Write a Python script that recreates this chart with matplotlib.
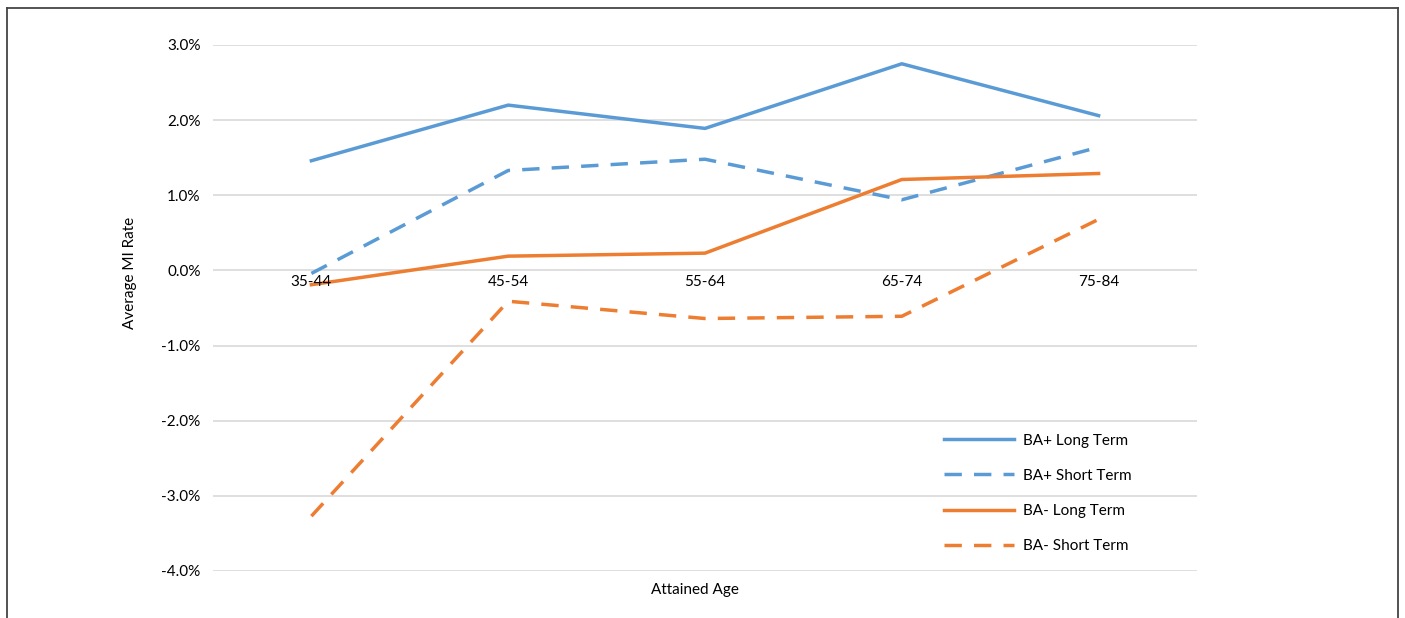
import matplotlib
matplotlib.use("Agg")
import matplotlib.pyplot as plt
from matplotlib.lines import Line2D
from matplotlib.ticker import FuncFormatter

plt.rcParams['font.family'] = ['Lato', 'DejaVu Sans']

age_groups = ["35-44", "45-54", "55-64", "65-74", "75-84"]
ba_plus_long = [1.46, 2.20, 1.89, 2.75, 2.06]
ba_plus_short = [-0.04, 1.33, 1.48, 0.94, 1.64]
ba_minus_long = [-0.19, 0.19, 0.23, 1.21, 1.29]
ba_minus_short = [-3.27, -0.41, -0.64, -0.61, 0.68]
y_ticks = [3, 2, 1, 0, -1, -2, -3, -4]

BLUE = "#5B9BD5"
ORANGE = "#ED7D31"

W, H = 1405, 618
fig = plt.figure(figsize=(W / 100, H / 100), dpi=100)
ax = fig.add_axes([213 / W, 1 - 571 / H, (1197 - 213) / W, (571 - 45) / H])

FS = 11
x = list(range(len(age_groups)))
dash = (0, (5, 3.5))
lw = 2.5
ax.plot(x, ba_plus_long, color=BLUE, lw=lw, label="BA+ Long Term")
ax.plot(x, ba_plus_short, color=BLUE, lw=lw, ls=dash, label="BA+ Short Term")
ax.plot(x, ba_minus_long, color=ORANGE, lw=lw, label="BA- Long Term")
ax.plot(x, ba_minus_short, color=ORANGE, lw=lw, ls=dash, label="BA- Short Term")

ax.set_xlim(-0.5, len(age_groups) - 0.5)
ax.set_ylim(-4, 3)
ax.set_yticks(y_ticks)
ax.yaxis.set_major_formatter(FuncFormatter(lambda v, _: f"{v:.1f}%"))
ax.tick_params(axis='y', length=0, pad=9, labelsize=FS, labelcolor="#000000")
ax.set_xticks([])
ax.grid(axis='y', color="#d9d9d9", lw=1.2)
ax.set_axisbelow(True)
for s in ax.spines.values():
    s.set_visible(False)

# category labels sit just under the zero line
for xi, lab in zip(x, age_groups):
    ax.annotate(lab, (xi, 0), xytext=(0, -3), textcoords="offset points",
                ha="center", va="top", fontsize=FS)

fig.text(130 / W, 1 - 273 / H, "Average MI Rate", rotation=90,
         ha="center", va="center", fontsize=FS)
fig.text(695 / W, 1 - 590 / H, "Attained Age", ha="center", va="center",
         fontsize=FS)

leg = ax.legend(loc="upper left", bbox_to_anchor=(930 / W, 1 - 420 / H),
                bbox_transform=fig.transFigure, frameon=False, fontsize=FS,
                handlelength=4.6, handletextpad=0.6, labelspacing=1.38)

# outer frame (open at the bottom)
fc = "#444444"
for xs, ys in [([7, 7], [H, 8]), ([7, 1398], [8, 8]), ([1398, 1398], [8, H])]:
    fig.add_artist(Line2D([v / W for v in xs], [1 - v / H for v in ys],
                          color=fc, lw=1.3, transform=fig.transFigure))

fig.savefig("out.png", dpi=100, facecolor="white")
